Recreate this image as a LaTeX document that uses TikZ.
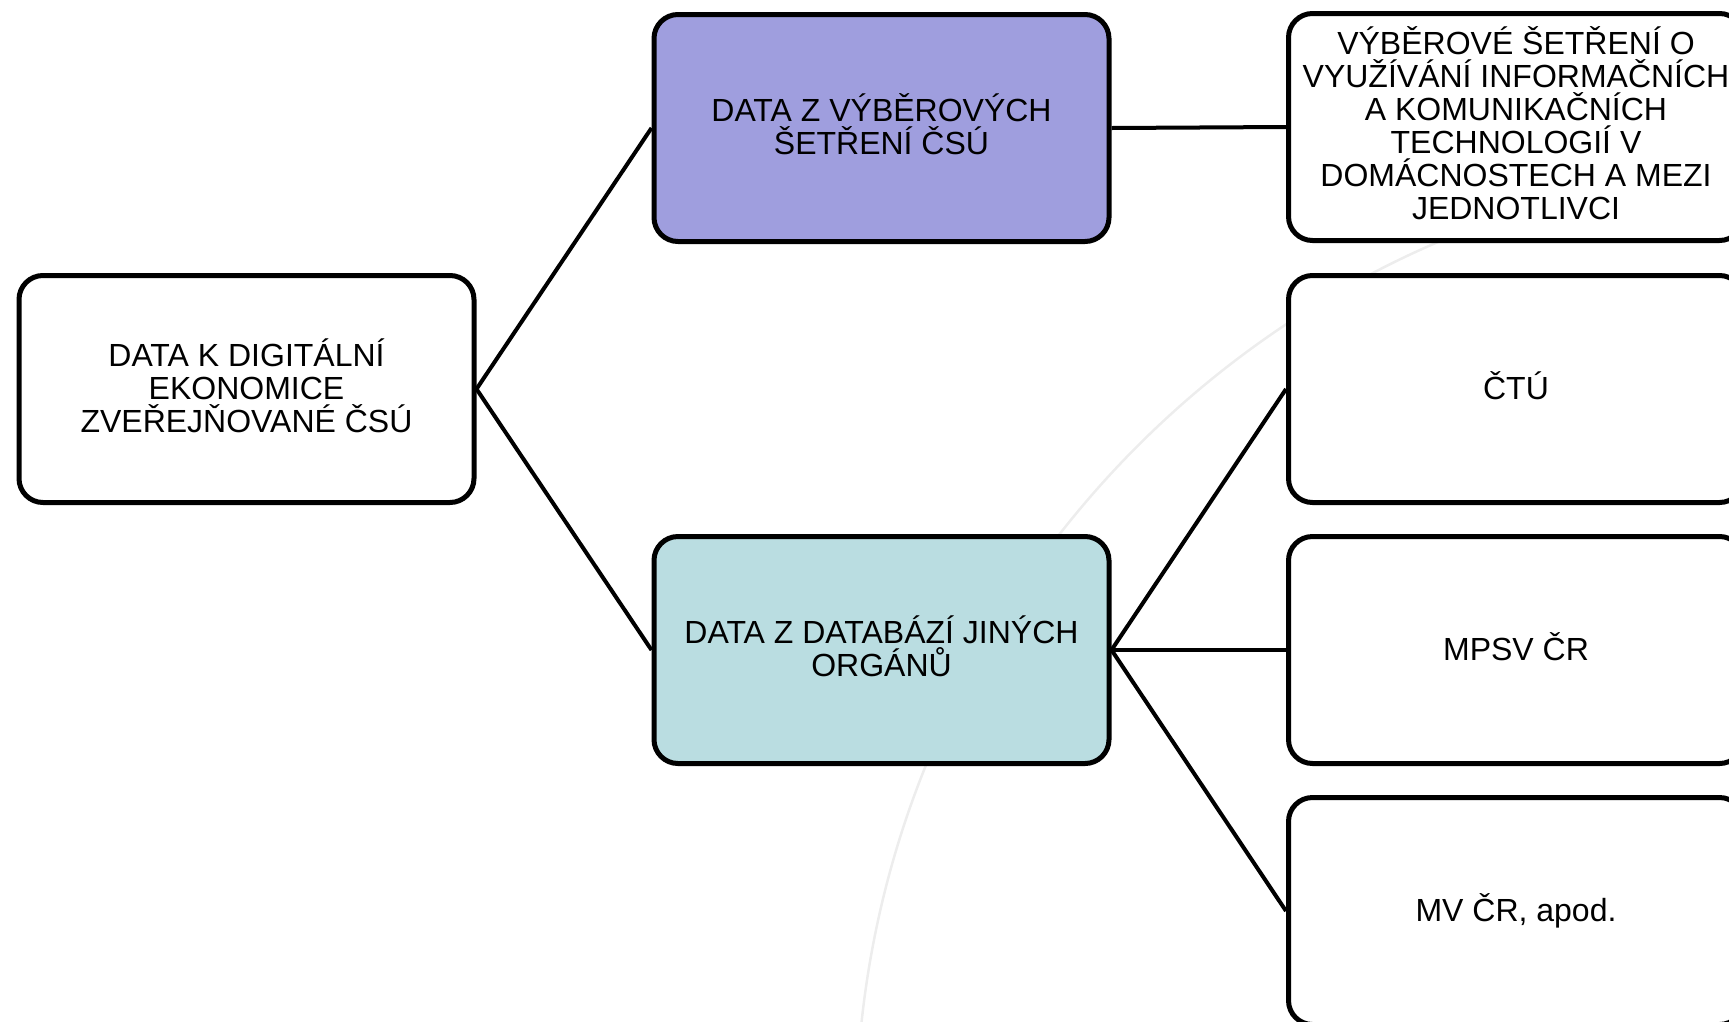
\documentclass[tikz,border=0pt]{standalone}
\usepackage{fontspec}
\setmainfont{Liberation Sans}
\definecolor{violetbox}{HTML}{9F9EDE}
\definecolor{tealbox}{HTML}{BADDE1}
\definecolor{arcgray}{HTML}{EDEDED}
\begin{document}
\begin{tikzpicture}[x=1pt,y=-1pt,
  box/.style={draw=black, line width=5pt, rounded corners=24pt, minimum width=455pt, minimum height=227pt, align=center, font=\fontsize{32}{33}\selectfont, fill=white, inner sep=0pt, execute at end node={\rule[-7pt]{0pt}{1pt}}},
  link/.style={line width=4pt}]
\useasboundingbox (0,0) rectangle (1729,1021);
\clip (0,0) rectangle (1729,1021);
\draw[arcgray, line width=2.5pt] (1818,1126) circle[radius=962pt];
\node[box] (root) at (246.5,389) {DATA K DIGITÁLNÍ\\EKONOMICE\\ZVEŘEJŇOVANÉ ČSÚ};
\node[box, fill=violetbox] (survey) at (881.5,128) {DATA Z VÝBĚROVÝCH\\ŠETŘENÍ ČSÚ};
\node[box, fill=tealbox] (dbs) at (881.5,650) {DATA Z DATABÁZÍ JINÝCH\\ORGÁNŮ};
\node[box] (ict) at (1516,127) {VÝBĚROVÉ ŠETŘENÍ O\\VYUŽÍVÁNÍ INFORMAČNÍCH\\A KOMUNIKAČNÍCH\\TECHNOLOGIÍ V\\DOMÁCNOSTECH A MEZI\\JEDNOTLIVCI};
\node[box] (ctu) at (1516,389) {ČTÚ};
\node[box] (mpsv) at (1516,650) {MPSV ČR};
\node[box] (mv) at (1516,911) {MV ČR, apod.};
\draw[link] (root.east) -- (survey.west);
\draw[link] (root.east) -- (dbs.west);
\draw[link] (survey.east) -- (ict.west);
\draw[link] (dbs.east) -- (ctu.west);
\draw[link] (dbs.east) -- (mpsv.west);
\draw[link] (dbs.east) -- (mv.west);
\end{tikzpicture}
\end{document}
